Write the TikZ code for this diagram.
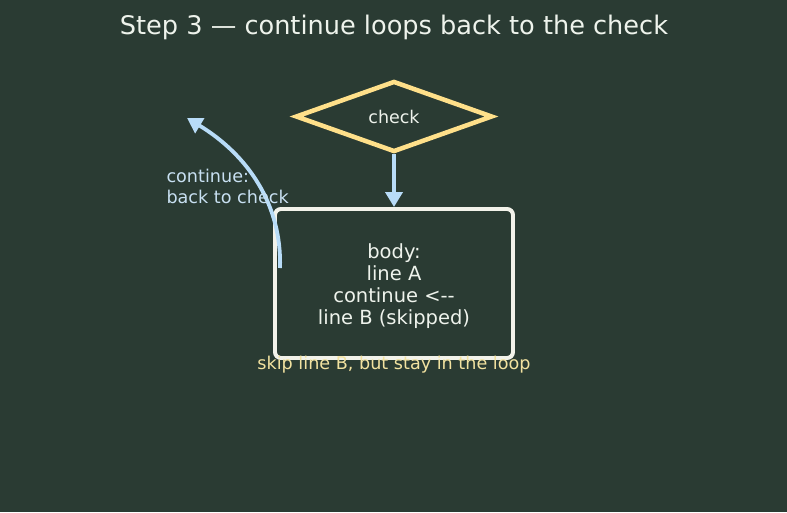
\documentclass[tikz,border=0pt]{standalone}
\usepackage{fontspec}
\setmainfont{DejaVu Sans}
\usetikzlibrary{shapes.geometric,arrows.meta}
\definecolor{bgdark}{HTML}{2A3B33}
\definecolor{chkline}{HTML}{FFE08A}
\definecolor{boxline}{HTML}{F2F2EA}
\definecolor{flowblue}{HTML}{B8DCF8}
\definecolor{txtlight}{HTML}{EEF3EC}
\definecolor{notebl}{HTML}{C8E0F2}
\definecolor{noteyl}{HTML}{F2E2A0}
\tikzset{
  flowarrow/.style={line width=1.35mm, color=flowblue, -{Triangle[length=15pt,width=17pt]}},
  decision/.style={diamond, draw=chkline, line width=1.6mm, minimum width=197pt, minimum height=71pt, inner sep=0pt, text=txtlight, font=\fontsize{17.5}{20}\selectfont},
  bodybox/.style={rectangle, rounded corners=6pt, draw=boxline, line width=1.4mm, minimum width=238pt, minimum height=149pt},
  bodytext/.style={align=center, text=txtlight, font=\fontsize{19.5}{22}\selectfont}
}

\begin{document}
\begin{tikzpicture}[x=1pt, y=-1pt]
			%%%%% START %%%%%
			
			\fill[bgdark] (0, 0) rectangle (787, 512);
			\useasboundingbox (0, 0) rectangle (787, 512);
			
			\node[text=txtlight, font=\fontsize{25.6}{30}\selectfont] (title) at (394, 27.5) {Step 3 — continue loops back to the check};
			
			\node[decision] (check) at (394, 116.5) {check};
			\node[bodybox] (body) at (394, 283.5) {};
			\node[bodytext] (bodylines) at (394, 286.5) {body:\\line A\\continue <{-}{-}\\line B (skipped)};
			
			\draw[flowarrow] (check.south) -- (body.north);
			
			\coordinate (loopstart) at (280, 268);
			\coordinate (loopend) at (187, 118);
			\draw[flowarrow] (loopstart) .. controls (282, 205) and (248, 155) .. (loopend);
			
			\node[anchor=west, align=left, text=notebl, font=\fontsize{17.6}{21}\selectfont] (loopnote) at (163, 186) {continue:\\back to check};
			\node[text=noteyl, font=\fontsize{17.6}{20}\selectfont] (skipnote) at (394, 365) {skip line B, but stay in the loop};
			
			%%%%% END %%%%%
		\end{tikzpicture}
\end{document}
